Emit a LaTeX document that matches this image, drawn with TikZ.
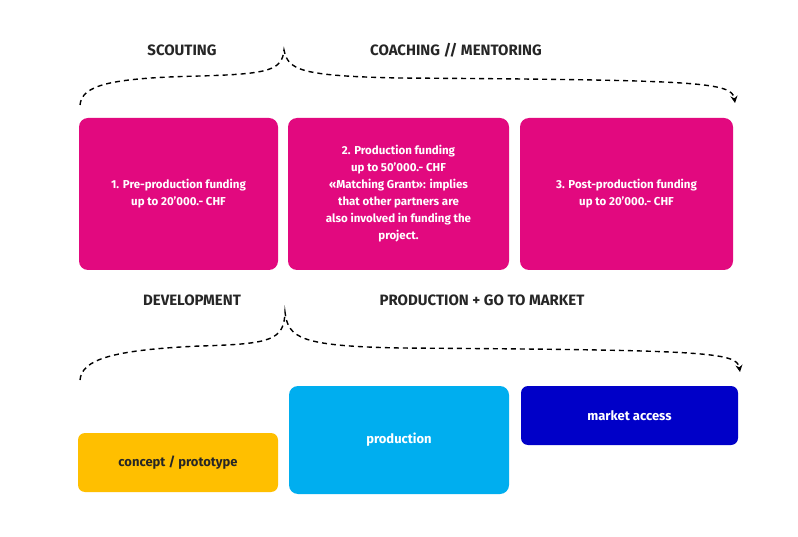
\documentclass[tikz,border=0pt]{standalone}
\usepackage{fontspec}
\setmainfont{Fira Sans}
\usetikzlibrary{arrows.meta}
\definecolor{pink}{HTML}{E2097F}
\definecolor{yel}{HTML}{FFBF00}
\definecolor{lblue}{HTML}{00AEEF}
\definecolor{dblue}{HTML}{0000C8}
\begin{document}
\begin{tikzpicture}[x=1pt,y=-1pt,
 box/.style={rounded corners=9pt,draw=none,inner sep=0pt,text=white,align=center,font=\fontsize{11.5}{17}\selectfont\bfseries},
 lab/.style={font=\fontsize{15}{18}\selectfont\bfseries,text=black!85},
 brace/.style={line width=1.4pt,dash pattern=on 5pt off 4pt,-{Stealth[length=7pt,width=7pt]}}]
\useasboundingbox[fill=white] (0,0) rectangle (798,537);
\node[box,fill=pink,minimum width=199pt,minimum height=152pt] (b1) at (178.5,194) {1. Pre-production funding\\up to 20’000.- CHF};
\node[box,fill=pink,minimum width=221pt,minimum height=152pt] (b2) at (398.5,194) {2. Production funding\\up to 50’000.- CHF\\«Matching Grant»: implies\\that other partners are\\also involved in funding the\\project.};
\node[box,fill=pink,minimum width=213pt,minimum height=152pt] (b3) at (626.5,194) {3. Post-production funding\\up to 20’000.- CHF};
\node[lab] (l1) at (182,50) {SCOUTING};
\node[lab] (l2) at (456,50) {COACHING // MENTORING};
\node[lab] (l3) at (192,300) {DEVELOPMENT};
\node[lab] (l4) at (482,300) {PRODUCTION + GO TO MARKET};
\coordinate (t0) at (80,105); \coordinate (tp) at (284,50); \coordinate (t1) at (735,103);
\draw[brace] (t0) .. controls (82,85) and (110,78) .. (200,76) .. controls (270,74) and (282,70) .. (tp)
  .. controls (288,70) and (300,76) .. (400,78) .. controls (700,80) and (732,82) .. (t1);
\coordinate (u0) at (80,380); \coordinate (up) at (285,312); \coordinate (u1) at (740,372);
\draw[brace] (u0) .. controls (82,360) and (110,350) .. (200,346) .. controls (272,344) and (284,340) .. (up)
  .. controls (288,338) and (300,346) .. (400,348) .. controls (705,350) and (737,352) .. (u1);
\node[box,fill=yel,text=black!85,minimum width=200pt,minimum height=59pt,rounded corners=7pt,font=\fontsize{13}{16}\selectfont\bfseries] (c) at (178,462.5) {concept / prototype};
\node[box,fill=lblue,minimum width=220pt,minimum height=108pt,font=\fontsize{13}{16}\selectfont\bfseries] (p) at (399,440) {production};
\node[box,fill=dblue,minimum width=217pt,minimum height=59pt,rounded corners=7pt,font=\fontsize{13}{16}\selectfont\bfseries] (m) at (629.5,415.5) {market access};
\end{tikzpicture}
\end{document}
